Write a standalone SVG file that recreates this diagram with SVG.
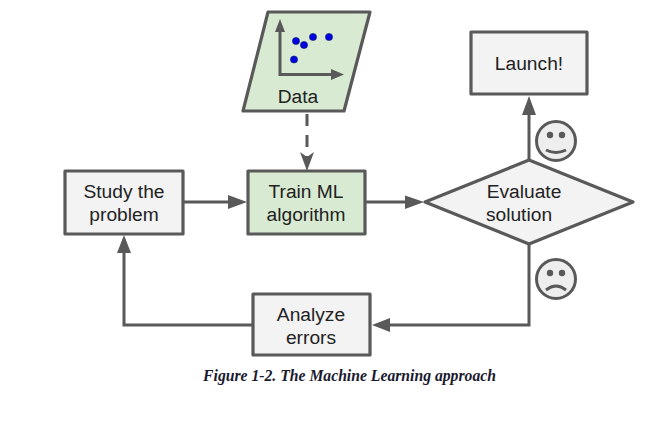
<svg xmlns="http://www.w3.org/2000/svg" width="661" height="432" viewBox="0 0 661 432">
<style>
.n{stroke:#595959;stroke-width:3.2;stroke-linejoin:round}
.g{fill:#f3f3f3}
.d{fill:#d9ead3}
text{font-family:"Liberation Sans",Arial,sans-serif;font-size:19.2px;fill:#222;text-anchor:middle}
.c{fill:none;stroke:#595959;stroke-width:3}
.h{fill:#595959}
.f{fill:#eee;stroke:#595959;stroke-width:3}
.p{fill:#0000e0;stroke:#0a2a6a;stroke-width:.6}
</style>
<rect width="661" height="432" fill="#fff"/>
<g id="connectors">
<path class="c" d="M307 114V158" stroke-dasharray="12 9"/>
<path class="h" d="M300 152L307 157L314 152L307 171Z"/>
<path class="c" d="M184 202H232"/>
<path class="h" d="M228 195V209L247 202Z"/>
<path class="c" d="M366 202H408"/>
<path class="h" d="M405 195.500V209L424 202Z"/>
<path class="c" d="M529 160V112"/>
<path class="h" d="M522 115H536L529 96Z"/>
<path class="c" d="M529 244V325H386"/>
<path class="h" d="M390 318V332L372 325Z"/>
<path class="c" d="M253 325H124V250"/>
<path class="h" d="M117 253H131L124 235Z"/>
</g>
<g id="data">
<path class="n d" d="M268 12H370L344 111H243Z"/>
<path class="c" d="M280 24V74.500H336"/>
<path class="h" d="M275 32H285L280 19ZM331 69V80L344 74.500Z"/>
<circle class="p" cx="296" cy="41" r="3.600"/>
<circle class="p" cx="304" cy="45" r="3.600"/>
<circle class="p" cx="313" cy="37" r="3.600"/>
<circle class="p" cx="329" cy="37" r="3.600"/>
<circle class="p" cx="294" cy="59.500" r="3.600"/>
<text x="298" y="103">Data</text>
</g>
<g id="study">
<rect class="n g" x="65" y="171" width="118" height="63"/>
<text x="124" y="198">Study the</text>
<text x="124" y="221">problem</text>
</g>
<g id="train">
<rect class="n d" x="248" y="171" width="117" height="63"/>
<text x="306" y="198">Train ML</text>
<text x="306" y="221">algorithm</text>
</g>
<g id="evaluate">
<path class="n g" d="M425 202L529 160L633 202L529 244Z"/>
<text x="524" y="198">Evaluate</text>
<text x="519" y="221">solution</text>
</g>
<g id="launch">
<rect class="n g" x="471" y="32" width="116" height="62"/>
<text x="529" y="70">Launch!</text>
</g>
<g id="analyze">
<rect class="n g" x="253" y="294" width="117" height="61"/>
<text x="311" y="321">Analyze</text>
<text x="311" y="344">errors</text>
</g>
<g id="happy">
<circle class="f" cx="556" cy="141" r="19.500"/>
<circle class="h" cx="550" cy="135" r="3.200"/>
<circle class="h" cx="562" cy="135" r="3.200"/>
<path class="c" d="M546 150Q556 155 566 150"/>
</g>
<g id="sad">
<circle class="f" cx="556" cy="279" r="19.500"/>
<circle class="h" cx="550" cy="273" r="3.200"/>
<circle class="h" cx="562" cy="273" r="3.200"/>
<path class="c" d="M546 290Q556 282 566 290"/>
</g>
<text x="349.500" y="381" style="font-family:'Liberation Serif',serif;font-size:15.700px;font-weight:bold;font-style:italic;fill:#1a1a2e">Figure 1-2. The Machine Learning approach</text>
</svg>
